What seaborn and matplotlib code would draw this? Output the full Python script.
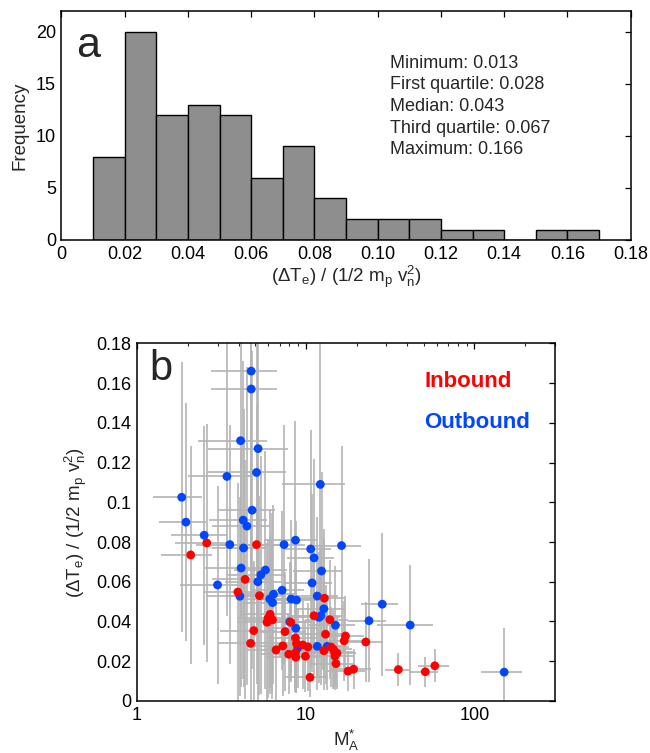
import numpy as np
import pandas as pd
import matplotlib
matplotlib.use("Agg")
import matplotlib.pyplot as plt
import seaborn as sns
from matplotlib.ticker import LogLocator, NullFormatter

sns.set_theme(style="white")
plt.rcParams['font.family'] = ['Liberation Sans', 'DejaVu Sans']
plt.rcParams['mathtext.fontset'] = 'custom'
plt.rcParams['mathtext.rm'] = 'Liberation Sans'
plt.rcParams['mathtext.it'] = 'Liberation Sans:italic'
plt.rcParams['mathtext.default'] = 'regular'

# ---------------- Panel a: histogram ----------------
bin_edges = [0.01, 0.02, 0.03, 0.04, 0.05, 0.06, 0.07, 0.08, 0.09, 0.10,
             0.11, 0.12, 0.13, 0.14, 0.15, 0.16, 0.17]
bin_counts = [8, 20, 12, 13, 12, 6, 9, 4, 2, 2, 2, 1, 1, 0, 1, 1]
stat_lines = ["Minimum: 0.013", "First quartile: 0.028", "Median: 0.043",
              "Third quartile: 0.067", "Maximum: 0.166"]
hist_xticks = [0, 0.02, 0.04, 0.06, 0.08, 0.10, 0.12, 0.14, 0.16, 0.18]
hist_xticklabels = ["0", "0.02", "0.04", "0.06", "0.08", "0.10", "0.12", "0.14", "0.16", "0.18"]
hist_yticks = [0, 5, 10, 15, 20]

# ---------------- Panel b: scatter with error bars ----------------
in_x = [2.59, 5.11, 2.08, 4.37, 3.96, 5.32, 12.9, 6.15, 5.98, 6.35, 5.90, 11.2,
        13.9, 8.15, 4.92, 7.54, 13.1, 17.2, 16.9, 22.7, 8.69, 4.71, 8.81, 7.31,
        9.60, 10.3, 14.1, 14.6, 12.8, 6.67, 14.8, 15.3, 14.9, 8.69, 7.93, 9.96,
        8.73, 15.1, 17.8, 19.2, 35.4, 51.1, 10.6, 58.2]
in_y = [0.0795, 0.0787, 0.0735, 0.0612, 0.0548, 0.0530, 0.0517, 0.0436, 0.0416,
        0.0408, 0.0396, 0.0429, 0.0409, 0.0396, 0.0354, 0.0349, 0.0336, 0.0327,
        0.0303, 0.0297, 0.0317, 0.0290, 0.0290, 0.0277, 0.0282, 0.0272, 0.0272,
        0.0260, 0.0253, 0.0257, 0.0247, 0.0241, 0.0226, 0.0243, 0.0235, 0.0225,
        0.0220, 0.0188, 0.0150, 0.0160, 0.0158, 0.0147, 0.0119, 0.0177]
in_xerr = [0.9, 2.0, 0.7, 1.6, 1.5, 1.9, 4.0, 2.0, 2.0, 2.0, 2.0, 3.5,
           4.0, 2.6, 1.8, 2.5, 4.0, 5.0, 5.0, 6.0, 2.8, 1.7, 2.8, 2.4,
           3.0, 3.2, 4.0, 4.2, 4.0, 2.2, 4.2, 4.5, 4.3, 2.8, 2.5, 3.0,
           2.8, 4.5, 4.5, 5.0, 6.0, 10.0, 3.0, 12.0]
in_yerr = [0.060, 0.070, 0.055, 0.060, 0.055, 0.050, 0.035, 0.040, 0.040, 0.040,
           0.040, 0.030, 0.030, 0.030, 0.035, 0.030, 0.025, 0.020, 0.020, 0.020,
           0.025, 0.030, 0.025, 0.025, 0.022, 0.022, 0.020, 0.020, 0.020, 0.025,
           0.018, 0.018, 0.017, 0.020, 0.020, 0.018, 0.018, 0.012, 0.010, 0.010,
           0.0085, 0.0075, 0.010, 0.0084]

out_x = [4.75, 4.75, 4.11, 5.22, 3.41, 5.11, 12.2, 1.84, 4.81, 1.95, 4.26, 4.48,
         2.50, 3.55, 4.28, 7.44, 8.69, 10.7, 16.3, 11.2, 4.14, 5.77, 5.42, 5.20,
         12.4, 3.00, 10.9, 7.24, 4.07, 6.44, 6.12, 6.35, 8.19, 8.81, 11.7, 12.8,
         28.4, 12.3, 12.0, 23.7, 41.6, 8.04, 15.0, 8.73, 8.97, 11.7, 13.4, 150.0]
out_y = [0.166, 0.157, 0.131, 0.127, 0.113, 0.115, 0.109, 0.1025, 0.096, 0.090,
         0.091, 0.088, 0.0834, 0.0787, 0.077, 0.0787, 0.0809, 0.0765, 0.0782,
         0.072, 0.0669, 0.0659, 0.0635, 0.060, 0.0654, 0.0584, 0.0594, 0.0557,
         0.0527, 0.0537, 0.0513, 0.0495, 0.0513, 0.0508, 0.0528, 0.0464, 0.0487,
         0.0429, 0.0421, 0.0404, 0.0382, 0.0398, 0.0381, 0.0366, 0.0267, 0.0275,
         0.0275, 0.0145]
out_xerr = [2.0, 2.0, 1.8, 2.6, 1.4, 2.5, 5.0, 0.6, 1.8, 0.6, 1.6, 1.7,
            0.9, 1.3, 1.5, 2.5, 3.0, 3.5, 5.0, 3.5, 1.6, 2.0, 2.0, 1.9,
            4.0, 1.2, 3.5, 2.5, 1.5, 2.2, 2.0, 2.0, 2.8, 3.0, 3.8, 4.0,
            7.0, 4.0, 4.0, 6.0, 15.0, 2.6, 4.5, 2.8, 3.0, 3.6, 4.0, 40.0]
out_yerr = [0.100, 0.100, 0.090, 0.090, 0.070, 0.080, 0.080, 0.068, 0.080, 0.060,
            0.080, 0.080, 0.055, 0.060, 0.070, 0.060, 0.060, 0.060, 0.050, 0.050,
            0.060, 0.060, 0.060, 0.060, 0.050, 0.050, 0.045, 0.040, 0.050, 0.045,
            0.045, 0.045, 0.040, 0.040, 0.040, 0.035, 0.036, 0.035, 0.033, 0.031,
            0.030, 0.030, 0.030, 0.030, 0.020, 0.022, 0.022, 0.022]

scatter_yticks = [0, 0.02, 0.04, 0.06, 0.08, 0.10, 0.12, 0.14, 0.16, 0.18]
scatter_yticklabels = ["0", "0.02", "0.04", "0.06", "0.08", "0.1", "0.12", "0.14", "0.16", "0.18"]
scatter_xticks = [1, 10, 100]
scatter_xticklabels = ["1", "10", "100"]

RED = "#ff0000"
BLUE = "#0046ff"
GRAY = "#b4b4b4"
FS = 13
LFS = 13.5

fig = plt.figure(figsize=(6.5, 7.53), dpi=100)
ax1 = fig.add_axes([0.0946, 0.6813, 0.8757, 0.3041])
ax2 = fig.add_axes([0.2108, 0.0691, 0.6430, 0.4750])

# Panel a
centers = [(bin_edges[i] + bin_edges[i + 1]) / 2 for i in range(len(bin_counts))]
hdf = pd.DataFrame({"value": centers, "count": bin_counts})
sns.histplot(data=hdf, x="value", weights="count", bins=bin_edges, ax=ax1,
             color="#8e8e8e", edgecolor="black", linewidth=1.0, alpha=1.0)
ax1.set_xlim(0, 0.18)
ax1.set_ylim(0, 22)
ax1.set_xticks(hist_xticks)
ax1.set_xticklabels(hist_xticklabels)
ax1.set_yticks(hist_yticks)
ax1.set_xlabel(r"($\Delta$T$_\mathrm{e}$) / (1/2 m$_\mathrm{p}$ v$_\mathrm{n}^\mathrm{2}$)", fontsize=LFS, labelpad=1)
ax1.set_ylabel("Frequency", fontsize=LFS, labelpad=5)
line_y = [0.772, 0.678, 0.583, 0.489, 0.395]
for s, yy in zip(stat_lines, line_y):
    ax1.text(0.578, yy, s, transform=ax1.transAxes, fontsize=FS, va="center", ha="left")
ax1.text(0.025, 0.80, "a", transform=ax1.transAxes, fontsize=31, va="baseline", ha="left")

# Panel b
ax2.errorbar(out_x, out_y, xerr=out_xerr, yerr=out_yerr, fmt="none",
             ecolor=GRAY, elinewidth=1.2, capsize=0, zorder=1)
ax2.errorbar(in_x, in_y, xerr=in_xerr, yerr=in_yerr, fmt="none",
             ecolor=GRAY, elinewidth=1.2, capsize=0, zorder=1)
sdf = pd.DataFrame({
    "x": out_x + in_x,
    "y": out_y + in_y,
    "dir": ["Outbound"] * len(out_x) + ["Inbound"] * len(in_x),
})
sns.scatterplot(data=sdf, x="x", y="y", hue="dir",
                palette={"Outbound": BLUE, "Inbound": RED},
                s=40, edgecolor="none", linewidth=0, ax=ax2, legend=False, zorder=3)
ax2.set_xscale("log")
ax2.set_xlim(1, 300)
ax2.set_ylim(0, 0.18)
ax2.set_xticks(scatter_xticks)
ax2.set_xticklabels(scatter_xticklabels)
ax2.xaxis.set_minor_locator(LogLocator(base=10, subs=np.arange(2, 10)))
ax2.xaxis.set_minor_formatter(NullFormatter())
ax2.set_yticks(scatter_yticks)
ax2.set_yticklabels(scatter_yticklabels)
ax2.set_xlabel(r"M$_\mathrm{A}^{*}$", fontsize=LFS, labelpad=3)
ax2.set_ylabel(r"($\Delta$T$_\mathrm{e}$) / (1/2 m$_\mathrm{p}$ v$_\mathrm{n}^\mathrm{2}$)", fontsize=LFS, labelpad=5)
ax2.text(0.687, 0.892, "Inbound", transform=ax2.transAxes, color=RED,
         fontsize=16, fontweight="bold", va="center", ha="left")
ax2.text(0.687, 0.778, "Outbound", transform=ax2.transAxes, color=BLUE,
         fontsize=16, fontweight="bold", va="center", ha="left")
ax2.text(0.03, 0.897, "b", transform=ax2.transAxes, fontsize=30, va="baseline", ha="left")

for ax in (ax1, ax2):
    for sp in ax.spines.values():
        sp.set_color("black")
        sp.set_linewidth(1.1)
        sp.set_visible(True)
    ax.tick_params(which="major", direction="in", length=4.5, width=0.9,
                   top=True, right=True, labelsize=FS, colors="black", pad=4)
    ax.tick_params(which="minor", direction="in", length=2.5, width=0.8,
                   top=True, right=True)
    ax.grid(False)
    ax.set_facecolor("white")

fig.savefig("out.png", dpi=100, facecolor="white")
